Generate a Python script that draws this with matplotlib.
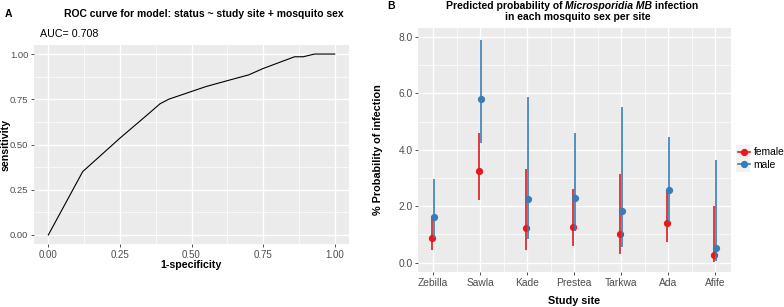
import numpy as np
import matplotlib
matplotlib.use('Agg')
import matplotlib.pyplot as plt
from matplotlib.lines import Line2D
from matplotlib.patches import Rectangle

plt.rcParams['font.family'] = ['Liberation Sans', 'DejaVu Sans']

# panel A: ROC curve
fpr = [0, 0.12, 0.25, 0.35, 0.39, 0.42, 0.55, 0.63, 0.70, 0.75, 0.86, 0.89, 0.93, 1.0]
tpr = [0, 0.35, 0.535, 0.67, 0.725, 0.75, 0.82, 0.855, 0.885, 0.92, 0.985, 0.985, 1.0, 1.0]
auc_text = 'AUC= 0.708'

# panel B: predicted probabilities (%) with intervals
sites = ['Zebilla', 'Sawla', 'Kade', 'Prestea', 'Tarkwa', 'Ada', 'Afife']
female_est = [0.87, 3.25, 1.23, 1.25, 1.00, 1.40, 0.27]
female_lo = [0.45, 2.24, 0.45, 0.60, 0.31, 0.75, 0.04]
female_hi = [1.64, 4.61, 3.33, 2.60, 3.15, 2.56, 2.00]
male_est = [1.62, 5.82, 2.26, 2.30, 1.83, 2.57, 0.51]
male_lo = [0.87, 4.26, 0.83, 1.14, 0.57, 1.46, 0.07]
male_hi = [2.95, 7.90, 5.86, 4.61, 5.53, 4.45, 3.63]

RED = '#E41A1C'
BLUE = '#377EB8'
BG = '#EBEBEB'
TICKC = '#4D4D4D'


def gg_axes(ax):
    ax.set_facecolor(BG)
    for s in ax.spines.values():
        s.set_visible(False)
    ax.grid(which='major', color='white', lw=1.0)
    ax.grid(which='minor', color='white', lw=0.5)
    ax.set_axisbelow(True)
    ax.tick_params(which='major', length=2.5, width=0.6, color='#333333',
                   labelcolor=TICKC, pad=1.5)
    ax.tick_params(which='minor', length=0)


W, H = 784, 307
fig = plt.figure(figsize=(W / 100, H / 100), dpi=100)


def box(x0, y0, x1, y1):
    return [x0 / W, 1 - y1 / H, (x1 - x0) / W, (y1 - y0) / H]


# ---- A ----
ax1 = fig.add_axes(box(34, 45, 349, 244))
gg_axes(ax1)
ax1.plot(fpr, tpr, color='black', lw=0.8)
ax1.set_xlim(-0.05, 1.05)
ax1.set_ylim(-0.05, 1.05)
ticks = [0, 0.25, 0.5, 0.75, 1.0]
ax1.set_xticks(ticks)
ax1.set_yticks(ticks)
ax1.set_xticklabels(['%.2f' % t for t in ticks], fontsize=7)
ax1.set_yticklabels(['%.2f' % t for t in ticks], fontsize=6.8)
ax1.set_xticks([0.125, 0.375, 0.625, 0.875], minor=True)
ax1.set_yticks([0.125, 0.375, 0.625, 0.875], minor=True)
ax1.set_xlabel('1-specificity', fontsize=7.7, fontweight='bold', labelpad=0)
ax1.set_ylabel('sensitivity', fontsize=7.7, fontweight='bold')
ax1.yaxis.set_label_coords(-0.074, 0.5)
fig.text(5 / W, 1 - 14 / H, 'A', fontsize=7.5, fontweight='bold', va='center')
fig.text(204 / W, 1 - 14 / H, 'ROC curve for model: status ~ study site + mosquito sex',
         fontsize=7.5, fontweight='bold', ha='center', va='center')
fig.text(40 / W, 1 - 34 / H, auc_text, fontsize=7.7, va='center')

# ---- B ----
ax2 = fig.add_axes(box(418, 28, 731, 272))
gg_axes(ax2)
x = np.arange(1, len(sites) + 1)
d = 0.03
ax2.vlines(x - d, female_lo, female_hi, color=RED, lw=1.2)
ax2.plot(x - d, female_est, 'o', color=RED, ms=4.2, label='female')
ax2.vlines(x + d, male_lo, male_hi, color=BLUE, lw=1.2)
ax2.plot(x + d, male_est, 'o', color=BLUE, ms=4.2, label='male')
ax2.set_xlim(0.68, 7.34)
ax2.set_ylim(-0.33, 8.32)
ax2.set_xticks(x)
ax2.set_xticklabels(sites, fontsize=7.4)
ax2.set_xticks(x[:-1] + 0.5, minor=True)
yt = [0, 2, 4, 6, 8]
ax2.set_yticks(yt)
ax2.set_yticklabels(['%.1f' % t for t in yt], fontsize=7.4)
ax2.set_yticks([1, 3, 5, 7], minor=True)
ax2.set_xlabel('Study site', fontsize=7.8, fontweight='bold', labelpad=6)
ax2.set_ylabel('% Probability of infection', fontsize=7.8, fontweight='bold')
ax2.yaxis.set_label_coords(-0.112, 0.5)

fig.text(387 / W, 1 - 6 / H, 'B', fontsize=7.5, fontweight='bold', va='center')
# title with italic species name
fig.canvas.draw()
r = fig.canvas.get_renderer()
parts = [('Predicted probability of ', 'normal'), ('Microsporidia MB', 'italic'),
         (' infection', 'normal')]
objs = []
for s, st in parts:
    objs.append(fig.text(0, 1 - 6 / H, s, fontsize=7.5, fontweight='bold',
                         style=st, va='center'))
widths = [o.get_window_extent(r).width for o in objs]
x0 = 572 - sum(widths) / 2
for o, w in zip(objs, widths):
    o.set_x(x0 / W)
    x0 += w
fig.text(578 / W, 1 - 17.5 / H, 'in each mosquito sex per site', fontsize=7.5,
         fontweight='bold', ha='center', va='center')

# legend
fig.patches.append(Rectangle((736 / W, 1 - 172 / H), 14 / W, 27 / H,
                             transform=fig.transFigure, facecolor='#F2F2F2',
                             edgecolor='none', zorder=0))
handles = [Line2D([], [], color=RED, marker='o', ms=4.2, lw=1.2),
           Line2D([], [], color=BLUE, marker='o', ms=4.2, lw=1.2)]
fig.legend(handles, ['female', 'male'], loc='center left',
           bbox_to_anchor=(733 / W, 1 - 158.5 / H), frameon=False, fontsize=7.4,
           handlelength=1.2, handletextpad=0.3, labelspacing=0.25, borderpad=0)

fig.savefig('out.png', dpi=100)
